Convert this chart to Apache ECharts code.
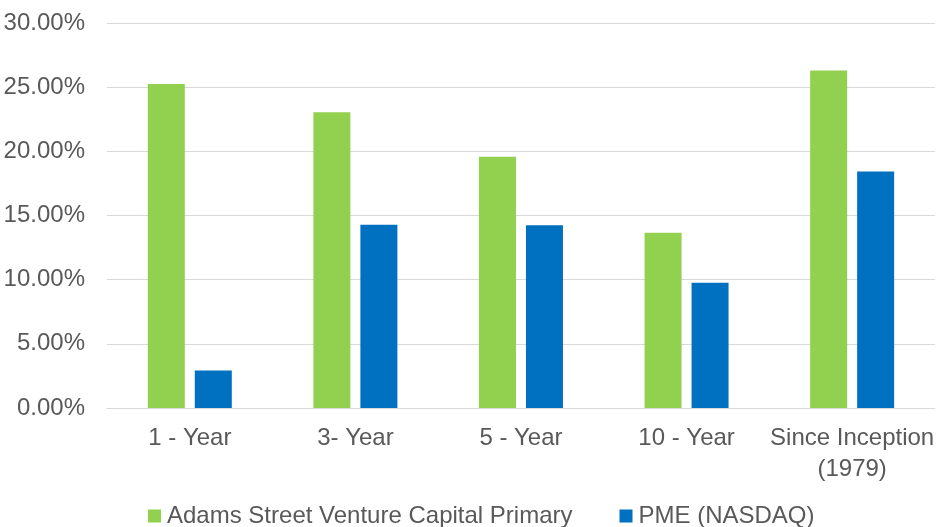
<!DOCTYPE html>
<html lang="en">
<head>
    <meta charset="UTF-8">
    <title>Returns vs PME</title>
    <style>
        html, body { margin: 0; padding: 0; background: #fff; }
    </style>
</head>
<body>
    <div id="chart" style="width: 937px;height:527px;"></div>
</body>
<script type="text/javascript" src="https://cdn.jsdelivr.net/npm/echarts@6/dist/echarts.min.js"></script>
<script type="text/javascript">
    // data
    var categories = ['1 - Year', '3- Year', '5 - Year', '10 - Year', 'Since Inception\n(1979)'];
    var seriesNames = ['Adams Street Venture Capital Primary', 'PME (NASDAQ)'];
    var adamsValues = [25.25, 23.05, 19.57, 13.65, 26.3];
    var pmeValues = [2.93, 14.28, 14.25, 9.76, 18.43];
    var yTicks = [0, 5, 10, 15, 20, 25, 30];

    var textColor = '#595959';
    var fontFamily = '"Liberation Sans", Arial, sans-serif';

    var myChart = echarts.init(document.getElementById('chart'));

    var option = {
        animation: false,
        textStyle: { fontFamily: fontFamily },
        grid: {
            left: 107,
            right: 0,
            top: 23,
            bottom: 119
        },
        legend: {
            data: seriesNames,
            left: 148,
            top: 504,
            padding: 0,
            icon: 'rect',
            itemWidth: 13,
            itemHeight: 13,
            itemGap: 47,
            textStyle: { color: textColor, fontSize: 24, padding: [0, 0, 0, 1], fontFamily: fontFamily }
        },
        xAxis: {
            type: 'category',
            data: categories,
            axisLine: { lineStyle: { color: '#D9D9D9' } },
            axisTick: { show: false },
            axisLabel: {
                color: textColor,
                fontSize: 24,
                lineHeight: 31,
                margin: 15,
                interval: 0,
                fontFamily: fontFamily
            }
        },
        yAxis: {
            type: 'value',
            min: yTicks[0],
            max: yTicks[yTicks.length - 1],
            interval: 5,
            axisLine: { show: false },
            axisTick: { show: false },
            splitLine: { lineStyle: { color: '#D9D9D9', width: 1 } },
            axisLabel: {
                color: textColor,
                fontSize: 24,
                margin: 22,
                fontFamily: fontFamily,
                formatter: function (v) { return v.toFixed(2) + '%'; }
            }
        },
        series: [
            {
                name: seriesNames[0],
                type: 'bar',
                data: adamsValues,
                barWidth: 37,
                barGap: '27%',
                itemStyle: { color: '#92D050' }
            },
            {
                name: seriesNames[1],
                type: 'bar',
                data: pmeValues,
                barWidth: 37,
                itemStyle: { color: '#0070C0' }
            }
        ]
    };

    myChart.setOption(option);
</script>
</html>
